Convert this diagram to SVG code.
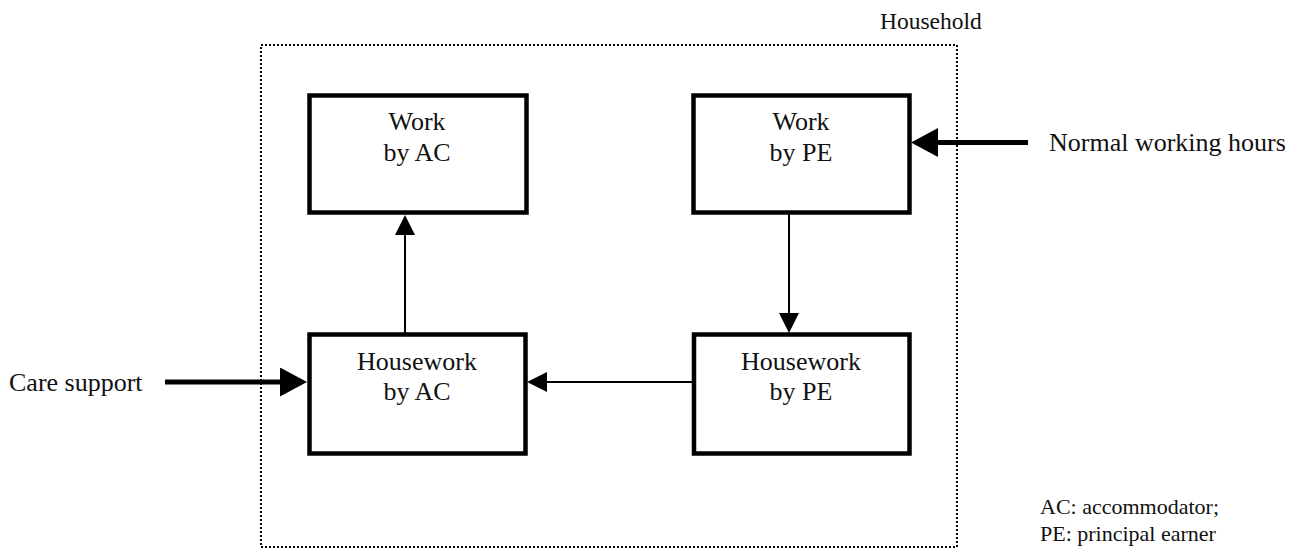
<svg xmlns="http://www.w3.org/2000/svg" width="1300" height="549" viewBox="0 0 1300 549">
<style>
  .box { fill: #fff; stroke: #000; stroke-width: 4.5; }
  .frame { fill: none; stroke: #000; stroke-width: 2; stroke-dasharray: 2 2; }
  .t { font-family: "Liberation Serif", "Times New Roman", serif; font-size: 26px; fill: #111; }
  .c { text-anchor: middle; }
  .thin { stroke: #000; stroke-width: 2; fill: none; }
  .thick { stroke: #000; stroke-width: 5; fill: none; }
</style>
<defs>
  <marker id="ah" markerUnits="userSpaceOnUse" markerWidth="20" markerHeight="20" refX="0" refY="10" orient="auto" viewBox="0 0 20 20">
    <path d="M0,0 L20,10 L0,20 z" fill="#000"/>
  </marker>
  <marker id="ahBig" markerUnits="userSpaceOnUse" markerWidth="27" markerHeight="29" refX="0" refY="14.5" orient="auto" viewBox="0 0 27 29">
    <path d="M0,0 L27,14.5 L0,29 z" fill="#000"/>
  </marker>
</defs>

<g id="household">
  <rect class="frame" x="261" y="45" width="696" height="502"/>
  <text class="t" x="880" y="29" style="font-size:23.5px">Household</text>
</g>

<g id="work-ac">
  <rect class="box" x="309.5" y="95.5" width="217" height="117"/>
  <text class="t c" x="417" y="130">Work</text>
  <text class="t c" x="417" y="161">by AC</text>
</g>

<g id="work-pe">
  <rect class="box" x="693.5" y="95.5" width="216" height="117"/>
  <text class="t c" x="801" y="130">Work</text>
  <text class="t c" x="801" y="161">by PE</text>
</g>

<g id="housework-ac">
  <rect class="box" x="309.5" y="334.5" width="216" height="119"/>
  <text class="t c" x="417" y="370">Housework</text>
  <text class="t c" x="417" y="400">by AC</text>
</g>

<g id="housework-pe">
  <rect class="box" x="694" y="334.5" width="215.5" height="119"/>
  <text class="t c" x="801" y="370">Housework</text>
  <text class="t c" x="801" y="400">by PE</text>
</g>

<g id="normal-hours">
  <text class="t" x="1049" y="151">Normal working hours</text>
</g>

<g id="care-support">
  <text class="t" x="9" y="391">Care support</text>
</g>

<g id="legend">
  <text class="t" x="1040" y="514" style="font-size:22px">AC: accommodator;</text>
  <text class="t" x="1040" y="541" style="font-size:22px">PE: principal earner</text>
</g>

<g id="connectors">
  <line class="thin" x1="405" y1="334" x2="405" y2="235" marker-end="url(#ah)"/>
  <line class="thin" x1="789" y1="214" x2="789" y2="313" marker-end="url(#ah)"/>
  <line class="thin" x1="692" y1="382" x2="547" y2="382" marker-end="url(#ah)"/>
  <line class="thick" x1="1028" y1="142.5" x2="938" y2="142.5" marker-end="url(#ahBig)"/>
  <line class="thick" x1="165" y1="382" x2="280" y2="382" marker-end="url(#ahBig)"/>
</g>
</svg>
